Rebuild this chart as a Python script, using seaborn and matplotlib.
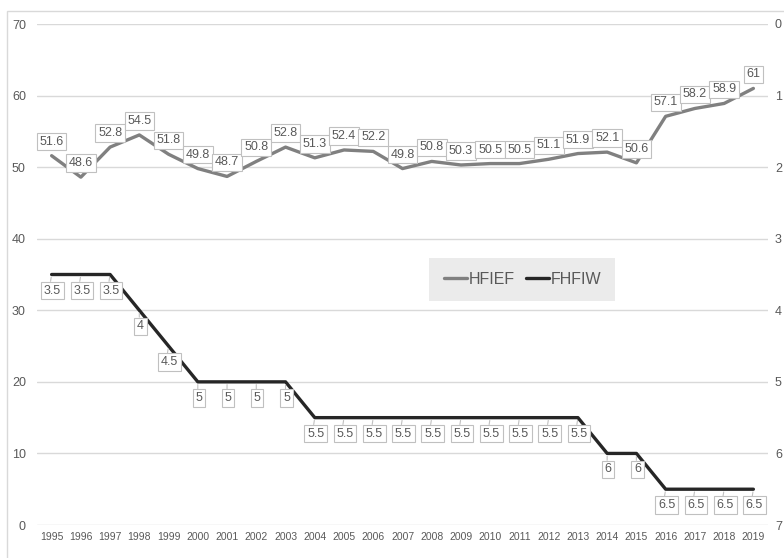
import matplotlib
matplotlib.use("Agg")
import matplotlib.pyplot as plt
from matplotlib.lines import Line2D
import seaborn as sns
import pandas as pd

years = [str(y) for y in range(1995, 2020)]
hfief = [51.6, 48.6, 52.8, 54.5, 51.8, 49.8, 48.7, 50.8, 52.8, 51.3, 52.4, 52.2,
         49.8, 50.8, 50.3, 50.5, 50.5, 51.1, 51.9, 52.1, 50.6, 57.1, 58.2, 58.9, 61]
fhfiw = [3.5, 3.5, 3.5, 4, 4.5, 5, 5, 5, 5, 5.5, 5.5, 5.5, 5.5, 5.5, 5.5, 5.5,
         5.5, 5.5, 5.5, 6, 6, 6.5, 6.5, 6.5, 6.5]

df = pd.DataFrame({"pos": range(len(years)), "year": years,
                   "HFIEF": hfief, "FHFIW": fhfiw})

sns.set_theme(style="white")
plt.rcParams["font.family"] = ["Liberation Sans", "DejaVu Sans"]

TXT = "#595959"
C1 = "#808080"
C2 = "#262626"
GRID = "#d9d9d9"

fig = plt.figure(figsize=(7.84, 5.58), dpi=100)
fig.patch.set_facecolor("white")
ax = fig.add_axes([37 / 784, 1 - 525 / 558, 731 / 784, 501 / 558])
ax2 = ax.twinx()

# outer chart frame
fig.add_artist(plt.Rectangle((7 / 784, -0.1), 1.2, 1 - 11 / 558 + 0.1,
                             transform=fig.transFigure, fill=False,
                             ec="#d9d9d9", lw=1.0))

sns.lineplot(data=df, x="pos", y="HFIEF", ax=ax, color=C1, lw=2.4,
             legend=False)
sns.lineplot(data=df, x="pos", y="FHFIW", ax=ax2, color=C2, lw=2.4,
             legend=False)

ax.set_xlim(-0.5, len(years) - 0.5)
ax.set_ylim(0, 70)
ax.set_yticks(range(0, 71, 10))
ax2.set_ylim(7, 0)
ax2.set_yticks(range(0, 8))
ax.set_xticks(range(len(years)))
ax.set_xticklabels(years)
ax.set_xlabel("")
ax.set_ylabel("")
ax2.set_ylabel("")

ax.yaxis.grid(True, color=GRID, lw=1.0)
ax.set_axisbelow(True)
for a in (ax, ax2):
    for s in a.spines.values():
        s.set_visible(False)
    a.patch.set_alpha(0)
ax.tick_params(axis="x", length=0, pad=5, labelsize=7.5, labelcolor=TXT)
ax.tick_params(axis="y", length=0, pad=8, labelsize=9, labelcolor=TXT)
ax2.tick_params(axis="y", length=0, pad=5, labelsize=9, labelcolor=TXT)

box = dict(boxstyle="square,pad=0.22", fc="white", ec="#c0c0c0", lw=0.8)

for i, v in enumerate(hfief):
    ax.annotate(f"{v:g}", (i, v), xytext=(0, 14), textcoords="offset pixels",
                ha="center", va="center", fontsize=9, color=TXT, bbox=box)

for i, v in enumerate(fhfiw):
    ax2.annotate(f"{v:g}", (i, v), xytext=(1, -16), textcoords="offset pixels",
                 ha="center", va="center", fontsize=9, color=TXT, bbox=box,
                 arrowprops=dict(arrowstyle="-", color="#c0c0c0", lw=0.8,
                                 shrinkA=0, shrinkB=2,
                                 relpos=(0.35, 1.0)))

handles = [Line2D([], [], color=C1, lw=2.4), Line2D([], [], color=C2, lw=2.4)]
leg = ax.legend(handles, ["HFIEF", "FHFIW"], loc="center",
                bbox_to_anchor=(0.664, 0.49), ncol=2, fontsize=11.5,
                frameon=True, handlelength=1.45, handletextpad=0.1,
                columnspacing=0.7, borderpad=0.9, borderaxespad=0,
                fancybox=False)
leg.get_frame().set_facecolor("#ebebeb")
leg.get_frame().set_edgecolor("none")
leg.get_frame().set_alpha(1)
for t in leg.get_texts():
    t.set_color(TXT)
leg.set_zorder(10)

fig.savefig("out.png", dpi=100, facecolor="white")
